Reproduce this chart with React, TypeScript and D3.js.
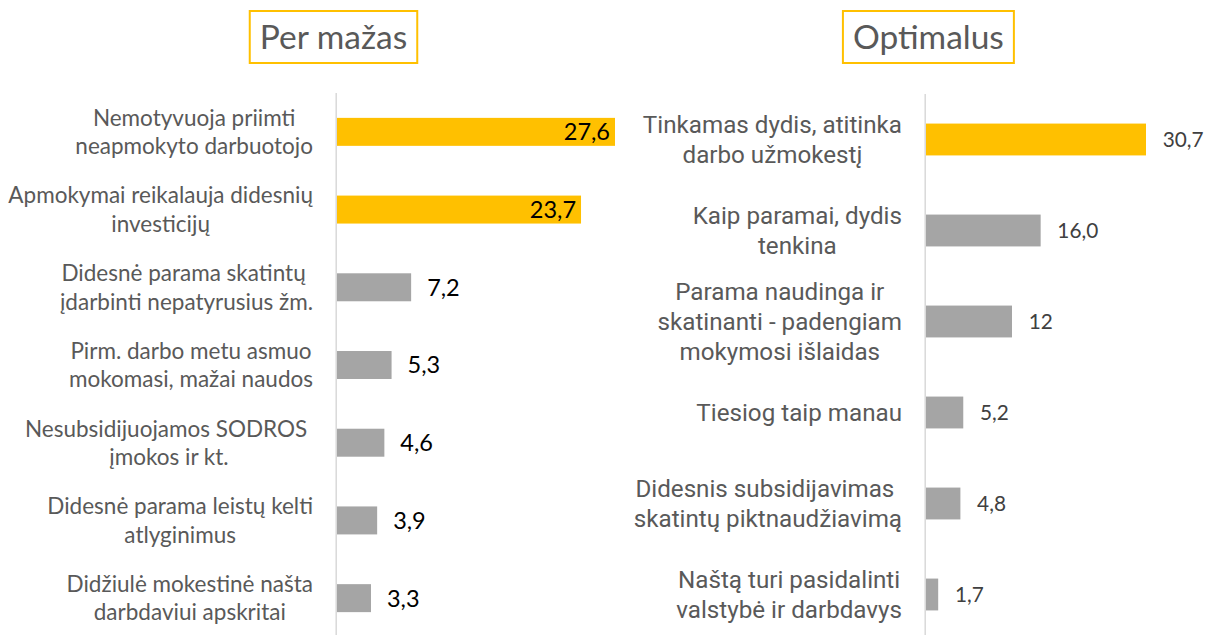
import React, { useEffect, useRef } from "react";
import * as d3 from "d3";

// ---- Data ----
const leftTitle = "Per mažas";
const rightTitle = "Optimalus";

const leftCategories = [
  "Nemotyvuoja priimti\nneapmokyto darbuotojo",
  "Apmokymai reikalauja didesnių\ninvesticijų",
  "Didesnė parama skatintų \nįdarbinti nepatyrusius žm.",
  "Pirm. darbo metu asmuo\nmokomasi, mažai naudos",
  "Nesubsidijuojamos SODROS \nįmokos ir kt.",
  "Didesnė parama leistų kelti\natlyginimus",
  "Didžiulė mokestinė našta\ndarbdaviui apskritai",
];
const leftValues = [27.6, 23.7, 7.2, 5.3, 4.6, 3.9, 3.3];
const leftValueLabels = ["27,6", "23,7", "7,2", "5,3", "4,6", "3,9", "3,3"];
const leftAxisMax = 27;
const leftHighlighted = 2;

const rightCategories = [
  "Tinkamas dydis, atitinka\ndarbo užmokestį",
  "Kaip paramai, dydis\ntenkina",
  "Parama naudinga ir\nskatinanti - padengiam\nmokymosi išlaidas",
  "Tiesiog taip manau",
  "Didesnis subsidijavimas \nskatintų piktnaudžiavimą",
  "Naštą turi pasidalinti\nvalstybė ir darbdavys",
];
const rightValues = [30.7, 16.0, 12, 5.2, 4.8, 1.7];
const rightValueLabels = ["30,7", "16,0", "12", "5,2", "4,8", "1,7"];
const rightHighlighted = 1;

// ---- Styles ----
const W = 1214;
const H = 635;
const YELLOW = "#FFC000";
const GRAY = "#A5A5A5";
const TEXT = "#595959";
const AXIS = "#D9D9D9";

type PanelOpts = {
  cats: string[];
  values: number[];
  valueLabels: string[];
  highlighted: number;
  domainMax: number;
  xRange: [number, number];
  yRange: [number, number];
  padInner: number;
  labelRight: number;
  labelFont: string;
  labelSize: number;
  lineH: number;
  valueSize: number;
  valueColor: string;
  insideCount: number;
  valueGap: number;
  axisX: number;
  axisY: [number, number];
  title: string;
  titleCx: number;
};

export default function App() {
  const ref = useRef<SVGSVGElement>(null);

  useEffect(() => {
    const svg = d3.select(ref.current);
    svg.selectAll("*").remove();

    const panel = (o: PanelOpts) => {
      const g = svg.append("g");
      const x = d3
        .scaleLinear()
        .domain([0, o.domainMax])
        .range(o.xRange)
        .clamp(true);
      const y = d3
        .scaleBand<string>()
        .domain(o.cats)
        .range(o.yRange)
        .paddingInner(o.padInner)
        .paddingOuter(o.padInner / 2);

      // axis line
      g.append("line")
        .attr("x1", o.axisX)
        .attr("x2", o.axisX)
        .attr("y1", o.axisY[0])
        .attr("y2", o.axisY[1])
        .attr("stroke", AXIS)
        .attr("stroke-width", 1.5);

      // bars
      g.selectAll("rect.bar")
        .data(o.values)
        .join("rect")
        .attr("class", "bar")
        .attr("x", x(0))
        .attr("y", (_, i) => y(o.cats[i])!)
        .attr("width", (d) => x(d) - x(0))
        .attr("height", y.bandwidth())
        .attr("fill", (_, i) => (i < o.highlighted ? YELLOW : GRAY));

      // value labels
      g.selectAll("text.val")
        .data(o.values)
        .join("text")
        .attr("class", "val")
        .attr("x", (d, i) => (i < o.insideCount ? x(d) - 5 : x(d) + o.valueGap))
        .attr("y", (_, i) => y(o.cats[i])! + y.bandwidth() / 2)
        .attr("dy", "0.36em")
        .attr("text-anchor", (_, i) => (i < o.insideCount ? "end" : "start"))
        .attr("font-family", "Lato, sans-serif")
        .attr("font-size", o.valueSize)
        .attr("fill", o.valueColor)
        .text((_, i) => o.valueLabels[i]);

      // category labels
      o.cats.forEach((cat) => {
        const lines = cat.split("\n");
        const cy = y(cat)! + y.bandwidth() / 2;
        const t = g
          .append("text")
          .attr("font-family", o.labelFont)
          .attr("font-size", o.labelSize)
          .attr("fill", TEXT)
          .attr("text-anchor", "middle")
          .style("white-space", "pre");
        const spans = lines.map((ln, i) =>
          t
            .append("tspan")
            .attr("y", cy + (i - (lines.length - 1) / 2) * o.lineH)
            .attr("dy", "0.36em")
            .text(ln)
        );
        const maxW = d3.max(spans, (s) =>
          (s.node() as SVGTextContentElement).getComputedTextLength()
        )!;
        spans.forEach((s) => s.attr("x", o.labelRight - maxW / 2));
      });

      // title with box
      const tt = g
        .append("text")
        .attr("x", o.titleCx)
        .attr("y", 49)
        .attr("text-anchor", "middle")
        .attr("font-family", "Lato, sans-serif")
        .attr("font-size", 33.5)
        .attr("fill", TEXT)
        .text(o.title);
      const tw = (tt.node() as SVGTextContentElement).getComputedTextLength();
      g.insert("rect", "text")
        .attr("x", o.titleCx - tw / 2 - 10)
        .attr("y", 11)
        .attr("width", tw + 20)
        .attr("height", 52)
        .attr("fill", "none")
        .attr("stroke", YELLOW)
        .attr("stroke-width", 2);
    };

    panel({
      cats: leftCategories,
      values: leftValues,
      valueLabels: leftValueLabels,
      highlighted: leftHighlighted,
      domainMax: leftAxisMax,
      xRange: [337, 615],
      yRange: [93, 637],
      padInner: 0.64,
      labelRight: 313,
      labelFont: "Lato, sans-serif",
      labelSize: 22.5,
      lineH: 28.5,
      valueSize: 23.5,
      valueColor: "#000000",
      insideCount: leftHighlighted,
      valueGap: 16,
      axisX: 336.2,
      axisY: [93, 636],
      title: leftTitle,
      titleCx: 333.5,
    });

    panel({
      cats: rightCategories,
      values: rightValues,
      valueLabels: rightValueLabels,
      highlighted: rightHighlighted,
      domainMax: d3.max(rightValues)!,
      xRange: [926, 1146],
      yRange: [94, 640],
      padInner: 0.65,
      labelRight: 902,
      labelFont: "Roboto, sans-serif",
      labelSize: 24.2,
      lineH: 30,
      valueSize: 20.8,
      valueColor: "#404040",
      insideCount: 0,
      valueGap: 16.7,
      axisX: 925.2,
      axisY: [94, 640],
      title: rightTitle,
      titleCx: 928.4,
    });
  }, []);

  return (
    <svg
      ref={ref}
      width={W}
      height={H}
      style={{ position: "absolute", left: 0, top: 0, background: "#fff" }}
    />
  );
}
